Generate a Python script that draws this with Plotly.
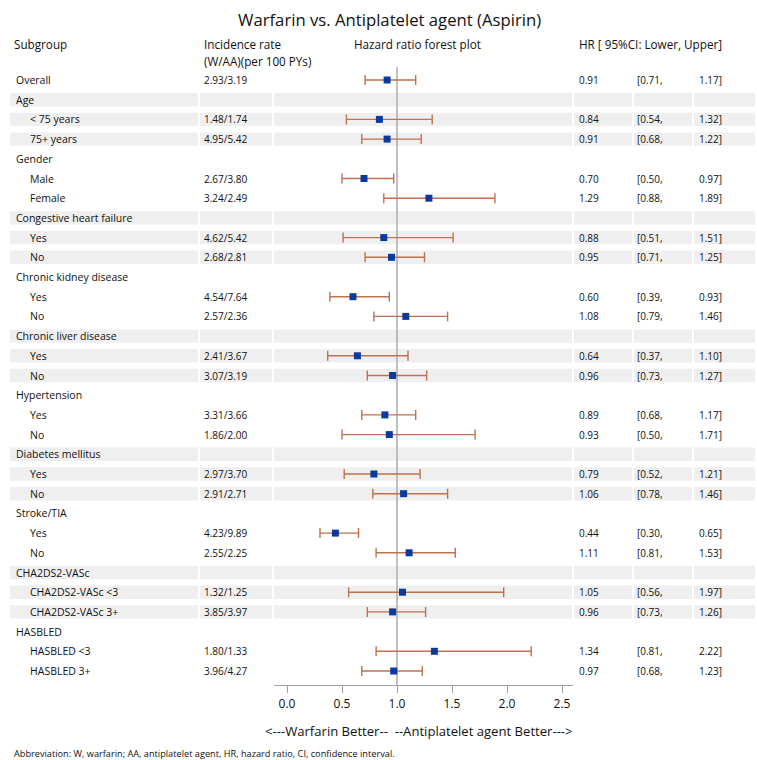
import plotly.graph_objects as go

# ---------------- data ----------------
row_labels = ["Overall", "Age", "< 75 years", "75+ years", "Gender", "Male", "Female",
              "Congestive heart failure", "Yes", "No", "Chronic kidney disease", "Yes", "No",
              "Chronic liver disease", "Yes", "No", "Hypertension", "Yes", "No",
              "Diabetes mellitus", "Yes", "No", "Stroke/TIA", "Yes", "No",
              "CHA2DS2-VASc", "CHA2DS2-VASc <3", "CHA2DS2-VASc 3+",
              "HASBLED", "HASBLED <3", "HASBLED 3+"]
row_level = [0, 0, 1, 1, 0, 1, 1, 0, 1, 1, 0, 1, 1, 0, 1, 1, 0, 1, 1,
             0, 1, 1, 0, 1, 1, 0, 1, 1, 0, 1, 1]
incidence = ["2.93/3.19", "", "1.48/1.74", "4.95/5.42", "", "2.67/3.80", "3.24/2.49",
             "", "4.62/5.42", "2.68/2.81", "", "4.54/7.64", "2.57/2.36",
             "", "2.41/3.67", "3.07/3.19", "", "3.31/3.66", "1.86/2.00",
             "", "2.97/3.70", "2.91/2.71", "", "4.23/9.89", "2.55/2.25",
             "", "1.32/1.25", "3.85/3.97", "", "1.80/1.33", "3.96/4.27"]
hr_vals = [0.91, None, 0.84, 0.91, None, 0.70, 1.29, None, 0.88, 0.95, None, 0.60, 1.08,
           None, 0.64, 0.96, None, 0.89, 0.93, None, 0.79, 1.06, None, 0.44, 1.11,
           None, 1.05, 0.96, None, 1.34, 0.97]
ci_lower = [0.71, None, 0.54, 0.68, None, 0.50, 0.88, None, 0.51, 0.71, None, 0.39, 0.79,
            None, 0.37, 0.73, None, 0.68, 0.50, None, 0.52, 0.78, None, 0.30, 0.81,
            None, 0.56, 0.73, None, 0.81, 0.68]
ci_upper = [1.17, None, 1.32, 1.22, None, 0.97, 1.89, None, 1.51, 1.25, None, 0.93, 1.46,
            None, 1.10, 1.27, None, 1.17, 1.71, None, 1.21, 1.46, None, 0.65, 1.53,
            None, 1.97, 1.26, None, 2.22, 1.23]
banded_rows = [1, 2, 3, 7, 8, 9, 13, 14, 15, 19, 20, 21, 25, 26, 27]
x_ticks = [0.0, 0.5, 1.0, 1.5, 2.0, 2.5]
x_tick_labels = ["0.0", "0.5", "1.0", "1.5", "2.0", "2.5"]

title_text = "Warfarin vs. Antiplatelet agent (Aspirin)"
axis_text = "<---Warfarin Better--\u00a0\u00a0--Antiplatelet agent Better--->"
footnote = "Abbreviation: W, warfarin; AA, antiplatelet agent, HR, hazard ratio, CI, confidence interval."

# ---------------- layout constants ----------------
W, H = 757, 760
FONT = "Open Sans"
TXT = "#111111"


def px(x):
    return x / W


def py(y):
    return 1 - y / H


n = len(row_labels)
rows = list(range(n))

idx = [i for i in rows if hr_vals[i] is not None]
fig = go.Figure()

fig.add_trace(go.Scatter(
    x=[hr_vals[i] for i in idx],
    y=idx,
    mode="markers",
    marker=dict(symbol="square", size=7, color="#0B3A9E"),
    error_x=dict(type="data", symmetric=False,
                 array=[ci_upper[i] - hr_vals[i] for i in idx],
                 arrayminus=[hr_vals[i] - ci_lower[i] for i in idx],
                 color="#C0714F", thickness=1.4, width=5),
    hoverinfo="skip", showlegend=False,
))

shapes = []
segments = [(10, 198), (200, 272), (274, 572), (574, 632), (634, 692), (694, 755)]
for r in banded_rows:
    for a, b in segments:
        shapes.append(dict(type="rect", xref="paper", yref="y", x0=px(a), x1=px(b),
                           y0=r - 0.34, y1=r + 0.34, fillcolor="#EFEFEF",
                           line=dict(width=0), layer="below"))
shapes.append(dict(type="line", xref="x", yref="y domain", x0=1, x1=1, y0=0, y1=1,
                   line=dict(color="#ABABAB", width=1.5), layer="below"))

ann = []
for i in rows:
    ann.append(dict(xref="paper", yref="y", x=px(14 if row_level[i] == 0 else 28), y=i,
                    text=row_labels[i], showarrow=False, xanchor="left", yanchor="middle",
                    font=dict(family=FONT, size=10.5, color=TXT)))
    if incidence[i]:
        ann.append(dict(xref="paper", yref="y", x=px(202), y=i, text=incidence[i],
                        showarrow=False, xanchor="left", yanchor="middle",
                        font=dict(family=FONT, size=10, color=TXT)))
    if hr_vals[i] is not None:
        for xp, t in [(577, f"{hr_vals[i]:.2f}"), (635, f"[{ci_lower[i]:.2f},"),
                      (697, f"{ci_upper[i]:.2f}]")]:
            ann.append(dict(xref="paper", yref="y", x=px(xp), y=i, text=t,
                            showarrow=False, xanchor="left", yanchor="middle",
                            font=dict(family=FONT, size=10, color=TXT)))

hdr = dict(family=FONT, size=11.7, color=TXT)
for xp, ypx, t in [(12, 44, "Subgroup"), (202, 44, "Incidence rate"),
                   (202, 61, "(W/AA)(per 100 PYs)"), (352, 44, "Hazard ratio forest plot"),
                   (577, 44, "HR [ 95%CI: Lower, Upper]")]:
    ann.append(dict(xref="paper", yref="paper", x=px(xp), y=py(ypx), text=t,
                    showarrow=False, xanchor="left", yanchor="middle", font=hdr))

ann.append(dict(xref="paper", yref="paper", x=px(389), y=py(19), text=title_text,
                showarrow=False, xanchor="center", yanchor="middle",
                font=dict(family=FONT, size=16.7, color=TXT)))
ann.append(dict(xref="paper", yref="paper", x=px(419), y=py(731), text=axis_text,
                showarrow=False, xanchor="center", yanchor="middle",
                font=dict(family=FONT, size=13.1, color=TXT)))
ann.append(dict(xref="paper", yref="paper", x=px(12), y=py(753), text=footnote,
                showarrow=False, xanchor="left", yanchor="middle",
                font=dict(family=FONT, size=9.2, color=TXT)))

row_top_px, row_step = 80.0, 19.7
y_top_px, y_bot_px = 67.0, 685.0
fig.update_layout(
    width=W, height=H,
    margin=dict(l=0, r=0, t=0, b=0, autoexpand=False),
    paper_bgcolor="white", plot_bgcolor="rgba(0,0,0,0)",
    xaxis=dict(domain=[px(274), px(573)], range=[(274 - 287) / 110, (573 - 287) / 110],
               tickvals=x_ticks, ticktext=x_tick_labels, ticks="outside", ticklen=7,
               tickcolor="#A0A0A0", showline=True, linecolor="#A0A0A0", linewidth=1.2,
               showgrid=False, zeroline=False,
               tickfont=dict(family=FONT, size=12, color=TXT)),
    yaxis=dict(domain=[py(y_bot_px), py(y_top_px)],
               range=[(y_bot_px - row_top_px) / row_step, (y_top_px - row_top_px) / row_step],
               visible=False, showgrid=False, zeroline=False),
    shapes=shapes, annotations=ann,
)

fig.write_html("out.html", config={"displayModeBar": False},
               post_script="document.body.style.margin='0px';")
